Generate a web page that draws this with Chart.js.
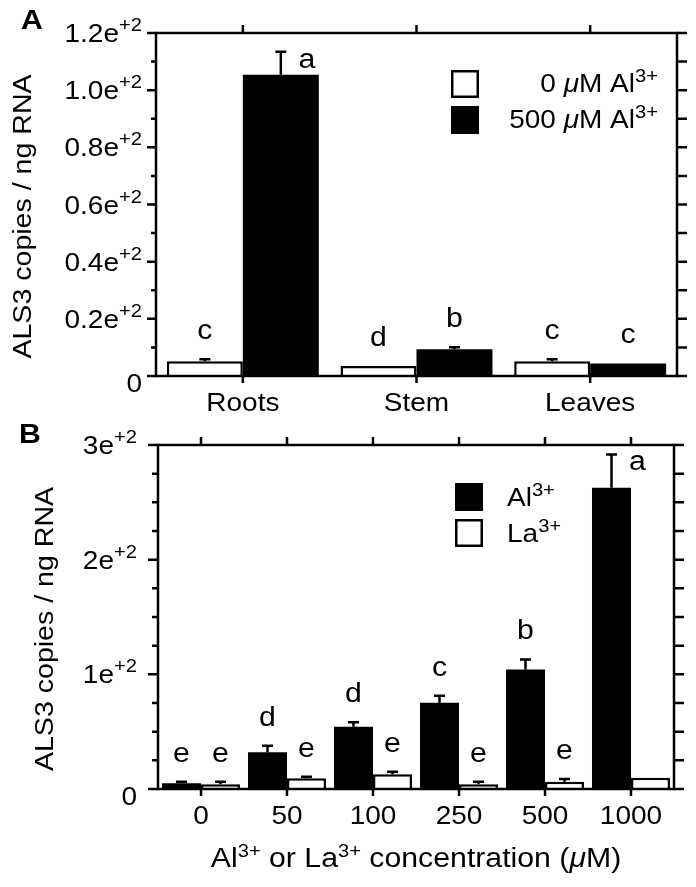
<!DOCTYPE html>
<html>
<head>
<meta charset="utf-8">
<script src="https://cdn.jsdelivr.net/npm/chart.js"></script>
<style>
    html, body { margin: 0; padding: 0; background: #ffffff; }
    #chartA { position: absolute; left: 0; top: 0; }
    #chartB { position: absolute; left: 0; top: 420px; }
</style>
</head>
<body>
<canvas id="chartA" width="696" height="420"></canvas>
<canvas id="chartB" width="696" height="467"></canvas>
<script>
// ---- Panel A data (copies / ng RNA) ----
const tissues = ['Roots', 'Stem', 'Leaves'];
const ctrlValuesA = [5.2, 3.5, 5.2];
const ctrlErrorsA = [0.7, 0, 0.7];
const alValuesA = [105.4, 9.4, 4.4];
const alErrorsA = [8.0, 0.7, 0];
const ctrlLettersA = ['c', 'd', 'c'];
const alLettersA = ['a', 'b', 'c'];
const yTicksA = [0, 20, 40, 60, 80, 100, 120];
const yTickLabelsA = ['0', '0.2e+2', '0.4e+2', '0.6e+2', '0.8e+2', '1.0e+2', '1.2e+2'];

// ---- Panel B data ----
const concentrations = ['0', '50', '100', '250', '500', '1000'];
const alValuesB = [5.0, 32.0, 54.3, 75.2, 104.3, 262.7];
const alErrorsB = [1.4, 5.8, 3.9, 6.1, 8.7, 29.1];
const laValuesB = [4.1, 9.3, 12.8, 4.1, 6.4, 9.9];
const laErrorsB = [2.3, 1.4, 2.2, 2.3, 2.3, 0];
const alLettersB = ['e', 'd', 'd', 'c', 'b', 'a'];
const laLettersB = ['e', 'e', 'e', 'e', 'e', ''];
const yTicksB = [0, 100, 200, 300];
const yTickLabelsB = ['0', '1e+2', '2e+2', '3e+2'];

const FAMILY = '"Liberation Sans", Arial, Helvetica, sans-serif';
const LW = 2.5;
const STRETCH = 1.12; // the original lettering is a bit wider than Arial

// split "Al^3+ or ..." into normal / superscript / italic mu pieces
function segments(str) {
    const out = [];
    const re = /\^(\S+)|μ/g;
    let last = 0, m;
    while ((m = re.exec(str))) {
        if (m.index > last) out.push({ t: str.slice(last, m.index), k: 'n' });
        if (m[1]) out.push({ t: m[1], k: 's' });
        else out.push({ t: 'μ', k: 'i' });
        last = re.lastIndex;
    }
    if (last < str.length) out.push({ t: str.slice(last), k: 'n' });
    return out;
}

function richText(ctx, str, x, y, size, supSize, rise, align, weight) {
    const segs = segments(str);
    const w0 = weight ? weight + ' ' : '';
    const fontOf = k => k === 's' ? `${w0}${supSize}px ${FAMILY}` : (k === 'i' ? `italic ${size}px ${FAMILY}` : `${w0}${size}px ${FAMILY}`);
    let w = 0;
    segs.forEach(s => { ctx.font = fontOf(s.k); s.w = ctx.measureText(s.t).width; w += s.w; });
    let cx = align === 'right' ? -w : (align === 'center' ? -w / 2 : 0);
    ctx.save();
    ctx.translate(x, y);
    ctx.scale(STRETCH, 1);
    ctx.textAlign = 'left';
    ctx.textBaseline = 'alphabetic';
    segs.forEach(s => {
        ctx.font = fontOf(s.k);
        ctx.fillText(s.t, cx, s.k === 's' ? -rise : 0);
        cx += s.w;
    });
    ctx.restore();
}

// error bars, letters, box frame, ticks, labels, legend
const figurePlugin = {
    id: 'figure',
    afterDatasetsDraw(chart, args, opts) {
        const ctx = chart.ctx;
        const yScale = chart.scales.y;
        const area = chart.chartArea;
        ctx.save();
        ctx.strokeStyle = '#000';
        ctx.fillStyle = '#000';
        ctx.lineWidth = LW;
        chart.data.datasets.forEach((ds, di) => {
            const meta = chart.getDatasetMeta(di);
            meta.data.forEach((bar, i) => {
                const err = ds.errors[i];
                const topPx = yScale.getPixelForValue(ds.data[i]);
                const errPx = yScale.getPixelForValue(ds.data[i] + err);
                if (err > 0) {
                    ctx.beginPath();
                    ctx.moveTo(bar.x, topPx);
                    ctx.lineTo(bar.x, errPx);
                    ctx.moveTo(bar.x - 5.5, errPx);
                    ctx.lineTo(bar.x + 5.5, errPx);
                    ctx.stroke();
                }
                const letter = ds.letters[i];
                if (!letter) return;
                if (errPx - 45 < area.top) {
                    richText(ctx, letter, bar.x + 26, errPx + 16, 27, 17, 0, 'center');
                } else {
                    richText(ctx, letter, bar.x, errPx - 20, 27, 17, 0, 'center');
                }
            });
        });
        ctx.restore();
    },
    afterDraw(chart, args, opts) {
        const ctx = chart.ctx;
        const area = chart.chartArea;
        const x = chart.scales.x;
        const y = chart.scales.y;
        ctx.save();
        ctx.strokeStyle = '#000';
        ctx.fillStyle = '#000';
        ctx.lineWidth = LW;
        ctx.lineCap = 'butt';
        ctx.strokeRect(area.left, area.top, area.right - area.left, area.bottom - area.top);

        ctx.beginPath();
        // left: major + minor ticks
        for (let v = y.min; v <= y.max + 1e-9; v += opts.minorStep) {
            const py = y.getPixelForValue(v);
            const isMajor = opts.yTicks.includes(Math.round(v * 1000) / 1000);
            ctx.moveTo(area.left, py);
            ctx.lineTo(area.left - (isMajor ? opts.majorLen : opts.minorLen), py);
        }
        // right: evenly spaced ticks
        for (let v = y.min; v <= y.max + 1e-9; v += opts.rightStep) {
            const py = y.getPixelForValue(v);
            ctx.moveTo(area.right, py);
            ctx.lineTo(area.right + opts.rightLen, py);
        }
        // top and bottom category ticks
        x.ticks.forEach((t, i) => {
            const px = x.getPixelForTick(i);
            ctx.moveTo(px, area.top);
            ctx.lineTo(px, area.top - 8);
            ctx.moveTo(px, area.bottom);
            ctx.lineTo(px, area.bottom + 7);
        });
        ctx.stroke();

        // y tick labels with superscript exponent
        opts.yTicks.forEach((v, i) => {
            const py = y.getPixelForValue(v);
            const lab = opts.yTickLabels[i];
            if (lab.indexOf('e') < 0) {
                richText(ctx, lab, area.left - opts.labelGap, py + 16, 25, 18, 11, 'right');
            } else {
                richText(ctx, lab.replace('e+', 'e^+'), area.left - opts.labelGap, py + 9, 25, 18, 11, 'right');
            }
        });

        // category labels
        x.ticks.forEach((t, i) => {
            richText(ctx, chart.data.labels[i], x.getPixelForTick(i), area.bottom + 35, opts.catSize, 17, 0, 'center');
        });

        // y axis title
        ctx.save();
        ctx.translate(opts.yTitleX, (area.top + area.bottom) / 2 + 12);
        ctx.rotate(-Math.PI / 2);
        ctx.scale(STRETCH, 1);
        ctx.font = `25.5px ${FAMILY}`;
        ctx.textAlign = 'center';
        ctx.textBaseline = 'middle';
        ctx.fillText(opts.yTitle, 0, 0);
        ctx.restore();

        // x axis title
        if (opts.xTitle) {
            richText(ctx, opts.xTitle, (area.left + area.right) / 2, area.bottom + 78, 27, 18, 10, 'center');
        }

        // panel letter
        richText(ctx, opts.panel, opts.panelX, opts.panelY, 27, 18, 0, 'center', 'bold');

        // legend
        const lg = opts.legend;
        chart.data.datasets.forEach((ds, di) => {
            const bx = area.left + lg.boxX;
            const by = area.top + lg.boxY + di * lg.rowGap;
            ctx.fillStyle = ds.backgroundColor;
            ctx.fillRect(bx, by, 28, 28);
            ctx.strokeRect(bx + LW / 2, by + LW / 2, 28 - LW, 28 - LW);
            ctx.fillStyle = '#000';
            richText(ctx, ds.label, area.left + lg.textX, area.top + lg.textY + di * lg.rowGap, 25, 18, 10, lg.align);
        });
        ctx.restore();
    }
};

function makeChart(id, labels, datasets, yMax, catPct, padding, fig) {
    return new Chart(document.getElementById(id), {
        type: 'bar',
        data: { labels: labels, datasets: datasets },
        options: {
            responsive: false,
            animation: false,
            layout: { padding: padding },
            datasets: { bar: { categoryPercentage: catPct, barPercentage: 1.0 } },
            scales: {
                x: { display: false, offset: true },
                y: { display: false, min: 0, max: yMax }
            },
            plugins: {
                legend: { display: false },
                tooltip: { enabled: false },
                figure: fig
            }
        },
        plugins: [figurePlugin]
    });
}

makeChart('chartA', tissues, [
    { label: '0 μM Al^3+', data: ctrlValuesA, errors: ctrlErrorsA, letters: ctrlLettersA,
      backgroundColor: '#ffffff', borderColor: '#000000', borderWidth: LW },
    { label: '500 μM Al^3+', data: alValuesA, errors: alErrorsA, letters: alLettersA,
      backgroundColor: '#000000', borderColor: '#000000', borderWidth: 0 }
], 120, 0.875, { left: 156, right: 19, top: 33, bottom: 44 }, {
    yTicks: yTicksA, yTickLabels: yTickLabelsA, minorStep: 10, rightStep: 10,
    majorLen: 9, minorLen: 5, rightLen: 10, labelGap: 14, catSize: 25,
    yTitle: 'ALS3 copies / ng RNA', yTitleX: 24,
    panel: 'A', panelX: 32, panelY: 29,
    legend: { boxX: 295, boxY: 37, rowGap: 36, textX: 502, textY: 59, align: 'right' }
});

makeChart('chartB', concentrations, [
    { label: 'Al^3+', data: alValuesB, errors: alErrorsB, letters: alLettersB,
      backgroundColor: '#000000', borderColor: '#000000', borderWidth: 0 },
    { label: 'La^3+', data: laValuesB, errors: laErrorsB, letters: laLettersB,
      backgroundColor: '#ffffff', borderColor: '#000000', borderWidth: LW }
], 300, 0.907, { left: 158, right: 22, top: 25, bottom: 98 }, {
    yTicks: yTicksB, yTickLabels: yTickLabelsB, minorStep: 25, rightStep: 25,
    majorLen: 10, minorLen: 6, rightLen: 10, labelGap: 21, catSize: 25,
    yTitle: 'ALS3 copies / ng RNA', yTitleX: 46,
    xTitle: 'Al^3+ or La^3+ concentration (μM)',
    panel: 'B', panelX: 30, panelY: 23,
    legend: { boxX: 297, boxY: 38, rowGap: 36, textX: 349, textY: 61, align: 'left' }
});
</script>
</body>
</html>
